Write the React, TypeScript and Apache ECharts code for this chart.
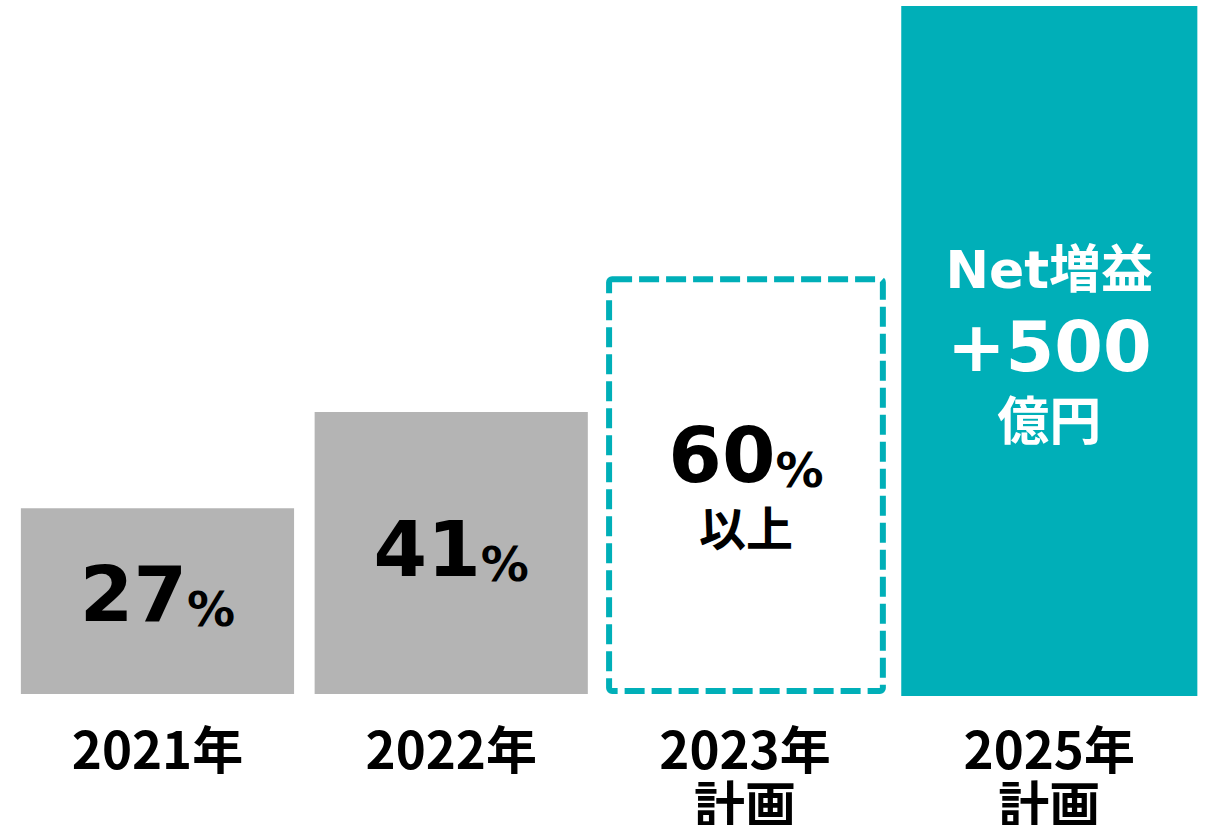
import React, { useEffect, useRef } from "react";
import * as echarts from "echarts";

const categories = ["2021年", "2022年", "2023年\n計画", "2025年\n計画"];
const values = [27, 41, 60, 100];
const mainNumbers = ["27", "41", "60", "+500"];
const unitTexts = ["%", "%", "%", ""];
const subTexts = ["", "", "以上", "億円"];
const headTexts = ["", "", "", "Net増益"];

const GRAY = "#B4B4B4";
const TEAL = "#00AFB8";
const JP = '"Noto Sans CJK JP", "Noto Sans", sans-serif';
const WIDE = '"DejaVu Sans", "Noto Sans CJK JP", sans-serif';

export default function App() {
  const ref = useRef<HTMLDivElement>(null);
  useEffect(() => {
    if (!ref.current) return;
    const chart = echarts.init(ref.current, undefined, { renderer: "svg" });

    const numRich = (fill: string) => ({
      big: { fontSize: 77, fontWeight: "bold", fontFamily: WIDE, lineHeight: 92, verticalAlign: "bottom", fill },
      pct: { fontSize: 48, fontWeight: "bold", fontFamily: WIDE, lineHeight: 72, verticalAlign: "bottom", fill },
    });

    const txt = (text: string, x: number, y: number, fill: string, extra: any) => ({
      type: "text",
      style: { text, x, y, align: "center", verticalAlign: "middle", fill, ...extra },
    });

    const renderItem = (params: any, api: any) => {
      const i = api.value(0);
      const v = api.value(1);
      const top = api.coord([i, v]);
      const base = api.coord([i, 0]);
      const band = api.size([1, 0])[0];
      const cx = top[0];
      const children: any[] = [];
      let rx = cx - band * 0.465;
      let rw = band * 0.93;
      let ry = top[1];
      let rh = base[1] - top[1];
      if (i <= 1) {
        children.push({
          type: "rect",
          shape: { x: rx, y: ry, width: rw, height: rh },
          style: { fill: GRAY },
        });
        const mid = ry + rh / 2;
        children.push(
          txt(`{big|${mainNumbers[i]}}{pct|${unitTexts[i]}}`, rx + rw / 2, mid - (i === 0 ? 14 : 11), "#000", {
            rich: numRich("#000"),
          })
        );
      } else if (i === 2) {
        rx = cx - band * 0.466 + 1;
        rw = band * 0.932;
        ry = top[1] - 2;
        rh = base[1] - 3 - ry;
        children.push({
          type: "rect",
          shape: { x: rx, y: ry, width: rw, height: rh, r: 3 },
          style: { fill: "#fff", stroke: TEAL, lineWidth: 6, lineDash: [20, 7] },
        });
        const mid = ry + rh / 2;
        children.push(
          txt(`{big|${mainNumbers[i]}}{pct|${unitTexts[i]}}`, rx + rw / 2, mid - 37, "#000", {
            rich: numRich("#000"),
          })
        );
        children.push(
          txt(subTexts[i], rx + rw / 2, mid + 40, "#000", {
            fontSize: 47,
            fontWeight: "bold",
            fontFamily: JP,
          })
        );
      } else {
        rw = band * 1.008;
        rx = cx + band * 0.036 - rw / 2;
        rh = base[1] + 2 - ry;
        children.push({
          type: "rect",
          shape: { x: rx, y: ry, width: rw, height: rh },
          style: { fill: TEAL },
        });
        const mid = ry + rh / 2;
        const x = rx + rw / 2;
        children.push(
          txt(headTexts[i], x, mid - 81, "#fff", { fontSize: 52, fontWeight: "bold", fontFamily: WIDE })
        );
        children.push(
          txt(mainNumbers[i], x, mid - 4, "#fff", { fontSize: 70, fontWeight: "bold", fontFamily: WIDE })
        );
        children.push(
          txt(subTexts[i], x, mid + 66, "#fff", { fontSize: 52, fontWeight: "bold", fontFamily: JP })
        );
      }
      return { type: "group", children };
    };

    chart.setOption({
      animation: false,
      grid: {
        left: 10.6,
        right: 23.4,
        top: 6,
        bottom: 131,
        containLabel: false,
        outerBoundsMode: "none",
      },
      xAxis: {
        type: "category",
        data: categories,
        axisLine: { show: false },
        axisTick: { show: false },
        axisLabel: {
          margin: 25,
          interval: 0,
          formatter: (val: string, idx: number) =>
            val
              .split("\n")
              .map((line) => (idx === 3 ? `{w|${line}}` : `{n|${line}}`))
              .join("\n"),
          rich: {
            n: { fontSize: 51, fontWeight: "bold", fontFamily: JP, color: "#000", lineHeight: 55 },
            w: { fontSize: 51, fontWeight: "bold", fontFamily: JP, color: "#000", lineHeight: 55, padding: [0, 0, 0, 21] },
          },
        },
      },
      yAxis: { type: "value", min: 0, max: 100, show: false, splitLine: { show: false } },
      series: [
        {
          type: "custom",
          renderItem,
          data: values.map((v, i) => [i, v]),
          encode: { x: 0, y: 1 },
        },
      ],
    });
    return () => chart.dispose();
  }, []);
  return (
    <div
      ref={ref}
      style={{ position: "fixed", left: 0, top: 0, width: 1209, height: 825, background: "#fff" }}
    />
  );
}
